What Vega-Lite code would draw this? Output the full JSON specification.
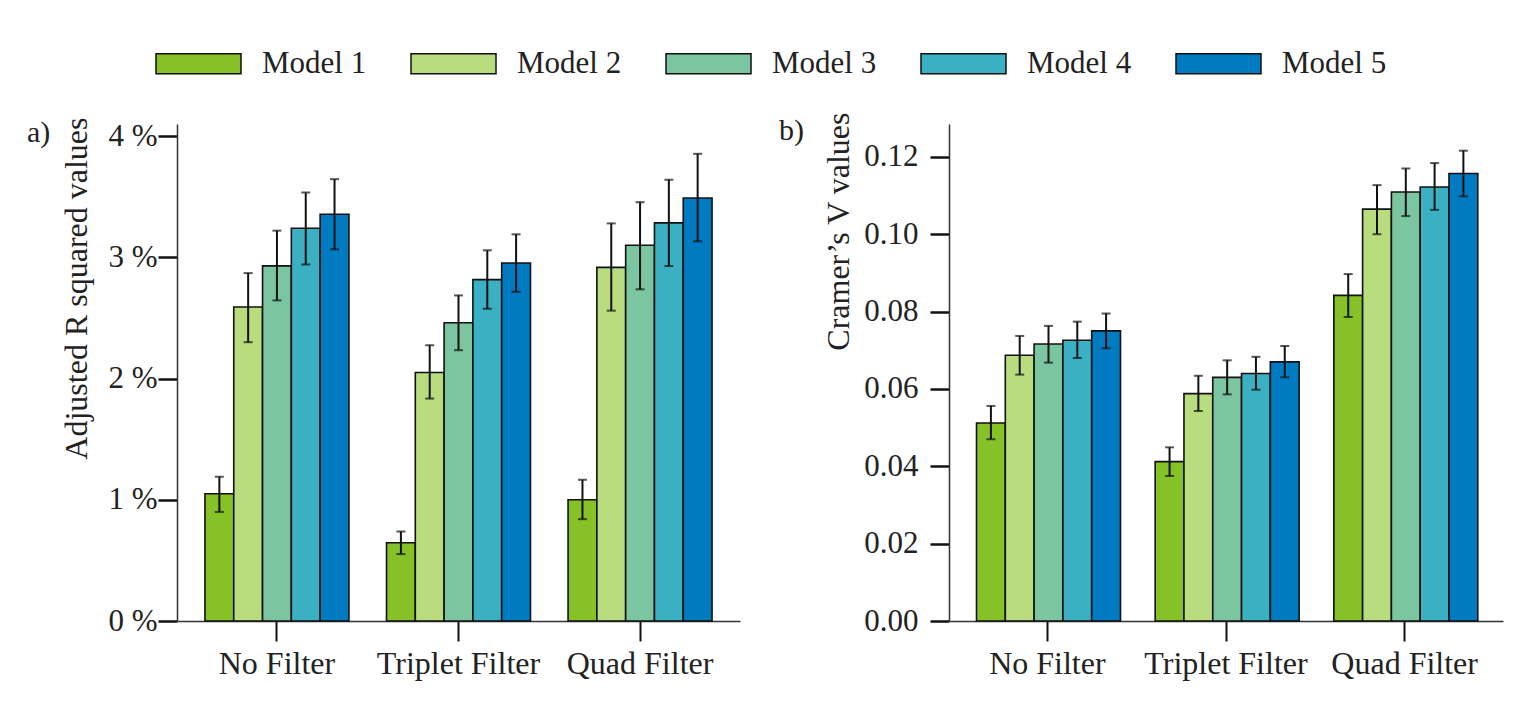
{
  "$schema": "https://vega.github.io/schema/vega-lite/v6.json",
  "background": "white",
  "padding": {"left": 27, "top": 20, "right": 12, "bottom": 20},
  "datasets": {
    "r2": [
      {"filter": "No Filter", "model": "Model 1", "value": 1.05, "lo": 0.90, "hi": 1.19},
      {"filter": "No Filter", "model": "Model 2", "value": 2.59, "lo": 2.30, "hi": 2.87},
      {"filter": "No Filter", "model": "Model 3", "value": 2.93, "lo": 2.645, "hi": 3.22},
      {"filter": "No Filter", "model": "Model 4", "value": 3.24, "lo": 2.94, "hi": 3.535},
      {"filter": "No Filter", "model": "Model 5", "value": 3.355, "lo": 3.066, "hi": 3.645},
      {"filter": "Triplet Filter", "model": "Model 1", "value": 0.645, "lo": 0.552, "hi": 0.738},
      {"filter": "Triplet Filter", "model": "Model 2", "value": 2.05, "lo": 1.835, "hi": 2.275},
      {"filter": "Triplet Filter", "model": "Model 3", "value": 2.46, "lo": 2.234, "hi": 2.686},
      {"filter": "Triplet Filter", "model": "Model 4", "value": 2.816, "lo": 2.576, "hi": 3.058},
      {"filter": "Triplet Filter", "model": "Model 5", "value": 2.953, "lo": 2.716, "hi": 3.19},
      {"filter": "Quad Filter", "model": "Model 1", "value": 1.0, "lo": 0.84, "hi": 1.165},
      {"filter": "Quad Filter", "model": "Model 2", "value": 2.917, "lo": 2.56, "hi": 3.28},
      {"filter": "Quad Filter", "model": "Model 3", "value": 3.10, "lo": 2.736, "hi": 3.455},
      {"filter": "Quad Filter", "model": "Model 4", "value": 3.284, "lo": 2.928, "hi": 3.64},
      {"filter": "Quad Filter", "model": "Model 5", "value": 3.49, "lo": 3.132, "hi": 3.854}
    ],
    "cv": [
      {"filter": "No Filter", "model": "Model 1", "value": 0.0512, "lo": 0.047, "hi": 0.0556},
      {"filter": "No Filter", "model": "Model 2", "value": 0.0687, "lo": 0.0637, "hi": 0.0737},
      {"filter": "No Filter", "model": "Model 3", "value": 0.0716, "lo": 0.0668, "hi": 0.0763},
      {"filter": "No Filter", "model": "Model 4", "value": 0.0726, "lo": 0.068, "hi": 0.0774},
      {"filter": "No Filter", "model": "Model 5", "value": 0.075, "lo": 0.0705, "hi": 0.0795},
      {"filter": "Triplet Filter", "model": "Model 1", "value": 0.0412, "lo": 0.0375, "hi": 0.0449},
      {"filter": "Triplet Filter", "model": "Model 2", "value": 0.0588, "lo": 0.0543, "hi": 0.0634},
      {"filter": "Triplet Filter", "model": "Model 3", "value": 0.063, "lo": 0.0586, "hi": 0.0674},
      {"filter": "Triplet Filter", "model": "Model 4", "value": 0.064, "lo": 0.0598, "hi": 0.0683},
      {"filter": "Triplet Filter", "model": "Model 5", "value": 0.067, "lo": 0.063, "hi": 0.0711},
      {"filter": "Quad Filter", "model": "Model 1", "value": 0.0842, "lo": 0.0786, "hi": 0.0897},
      {"filter": "Quad Filter", "model": "Model 2", "value": 0.1065, "lo": 0.1, "hi": 0.1127},
      {"filter": "Quad Filter", "model": "Model 3", "value": 0.1109, "lo": 0.1047, "hi": 0.117},
      {"filter": "Quad Filter", "model": "Model 4", "value": 0.1122, "lo": 0.1063, "hi": 0.1184},
      {"filter": "Quad Filter", "model": "Model 5", "value": 0.1157, "lo": 0.1098, "hi": 0.1216}
    ]
  },
  "spacing": 39,
  "resolve": {"scale": {"color": "shared"}},
  "hconcat": [
    {
      "width": 563,
      "height": 497,
      "title": {"text": "a)", "anchor": "start", "frame": "group", "dx": -150, "dy": 31, "fontSize": 30, "fontWeight": "normal", "font": "Liberation Serif", "color": "#222", "offset": 0},
      "data": {"name": "r2"},
      "encoding": {
        "x": {"field": "filter", "type": "nominal", "sort": ["No Filter", "Triplet Filter", "Quad Filter"], "scale": {"paddingInner": 0.207, "paddingOuter": 0.154}, "axis": {"title": null, "labelAngle": 0, "tickSize": 20, "tickWidth": 2, "labelPadding": 7, "labelFontSize": 32}},
        "xOffset": {"field": "model", "type": "nominal", "scale": {"paddingInner": 0, "paddingOuter": 0}}
      },
      "layer": [
        {
          "mark": {"type": "bar", "stroke": "#111", "strokeWidth": 1.6},
          "encoding": {
            "y": {"field": "value", "type": "quantitative", "scale": {"domain": [0, 4.1], "nice": false, "zero": true}, "axis": {"values": [0, 1, 2, 3, 4], "labelExpr": "datum.value + ' %'", "title": "Adjusted R squared values", "titleAnchor": "end", "titleY": -7, "labelPadding": 1, "titlePadding": 14}},
            "color": {
              "field": "model", "type": "nominal",
              "scale": {"domain": ["Model 1", "Model 2", "Model 3", "Model 4", "Model 5"], "range": ["#86c128", "#b9dd7e", "#7bc5a0", "#3bb0c2", "#007bc1"]},
              "legend": {"orient": "none", "direction": "horizontal", "columns": 5, "legendX": -22, "legendY": -104, "title": null, "symbolType": "M-1,-0.235H1V0.235H-1Z", "symbolSize": 7225, "symbolStrokeColor": "#222", "symbolStrokeWidth": 1.5, "labelFontSize": 31, "labelFont": "Liberation Serif", "labelColor": "#222", "labelOffset": 20, "columnPadding": 41, "padding": 0}
            }
          }
        },
        {
          "mark": {"type": "rule", "color": "#111", "strokeWidth": 2},
          "encoding": {"y": {"field": "lo", "type": "quantitative", "axis": {"values": [0, 1, 2, 3, 4], "labelExpr": "datum.value + ' %'", "title": "Adjusted R squared values", "titleAnchor": "end", "titleY": -7, "labelPadding": 1, "titlePadding": 14}}, "y2": {"field": "hi"}}
        },
        {
          "mark": {"type": "tick", "color": "#111", "thickness": 2, "size": 9},
          "encoding": {"y": {"field": "lo", "type": "quantitative", "axis": {"values": [0, 1, 2, 3, 4], "labelExpr": "datum.value + ' %'", "title": "Adjusted R squared values", "titleAnchor": "end", "titleY": -7, "labelPadding": 1, "titlePadding": 14}}}
        },
        {
          "mark": {"type": "tick", "color": "#111", "thickness": 2, "size": 9},
          "encoding": {"y": {"field": "hi", "type": "quantitative", "axis": {"values": [0, 1, 2, 3, 4], "labelExpr": "datum.value + ' %'", "title": "Adjusted R squared values", "titleAnchor": "end", "titleY": -7, "labelPadding": 1, "titlePadding": 14}}}
        }
      ]
    },
    {
      "width": 554,
      "height": 497,
      "title": {"text": "b)", "anchor": "start", "frame": "group", "dx": -170, "dy": 34, "fontSize": 30, "fontWeight": "normal", "font": "Liberation Serif", "color": "#222", "offset": 0},
      "data": {"name": "cv"},
      "encoding": {
        "x": {"field": "filter", "type": "nominal", "sort": ["No Filter", "Triplet Filter", "Quad Filter"], "scale": {"paddingInner": 0.207, "paddingOuter": 0.154}, "axis": {"title": null, "labelAngle": 0, "tickSize": 20, "tickWidth": 2, "labelPadding": 7, "labelFontSize": 32}},
        "xOffset": {"field": "model", "type": "nominal", "scale": {"paddingInner": 0, "paddingOuter": 0}}
      },
      "layer": [
        {
          "mark": {"type": "bar", "stroke": "#111", "strokeWidth": 1.6},
          "encoding": {
            "y": {"field": "value", "type": "quantitative", "scale": {"domain": [0, 0.1285], "nice": false, "zero": true}, "axis": {"values": [0, 0.02, 0.04, 0.06, 0.08, 0.1, 0.12], "format": ".2f", "title": "Cramer’s V values", "titleAnchor": "end", "titleY": -12, "labelPadding": 12, "titlePadding": 8}},
            "color": {"field": "model", "type": "nominal"}
          }
        },
        {
          "mark": {"type": "rule", "color": "#111", "strokeWidth": 2},
          "encoding": {"y": {"field": "lo", "type": "quantitative", "axis": {"values": [0, 0.02, 0.04, 0.06, 0.08, 0.1, 0.12], "format": ".2f", "title": "Cramer’s V values", "titleAnchor": "end", "titleY": -12, "labelPadding": 12, "titlePadding": 8}}, "y2": {"field": "hi"}}
        },
        {
          "mark": {"type": "tick", "color": "#111", "thickness": 2, "size": 9},
          "encoding": {"y": {"field": "lo", "type": "quantitative", "axis": {"values": [0, 0.02, 0.04, 0.06, 0.08, 0.1, 0.12], "format": ".2f", "title": "Cramer’s V values", "titleAnchor": "end", "titleY": -12, "labelPadding": 12, "titlePadding": 8}}}
        },
        {
          "mark": {"type": "tick", "color": "#111", "thickness": 2, "size": 9},
          "encoding": {"y": {"field": "hi", "type": "quantitative", "axis": {"values": [0, 0.02, 0.04, 0.06, 0.08, 0.1, 0.12], "format": ".2f", "title": "Cramer’s V values", "titleAnchor": "end", "titleY": -12, "labelPadding": 12, "titlePadding": 8}}}
        }
      ]
    }
  ],
  "config": {
    "font": "Liberation Serif",
    "view": {"stroke": null},
    "axis": {"labelFont": "Liberation Serif", "titleFont": "Liberation Serif", "labelFontSize": 31, "titleFontSize": 32, "titleFontWeight": "normal", "labelColor": "#222", "titleColor": "#222", "domainColor": "#333", "domainWidth": 1.5, "tickColor": "#111", "tickWidth": 2.5, "tickSize": 19, "grid": false}
  }
}
